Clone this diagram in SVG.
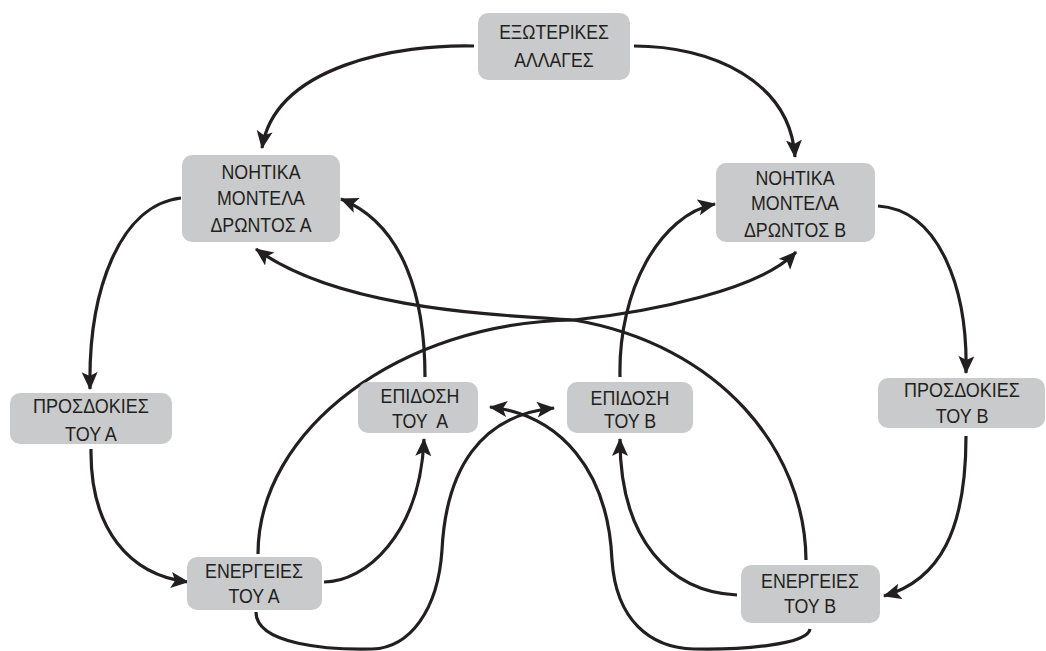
<svg xmlns="http://www.w3.org/2000/svg" width="1046" height="651" viewBox="0 0 1046 651">
<style>
.box{fill:#c9cacc;}
.lbl{font-family:"Liberation Sans",Arial,sans-serif;font-size:20px;fill:#231f20;text-anchor:middle;}
.c{fill:none;stroke:#231f20;stroke-width:3.2;marker-end:url(#ah);}
</style>
<defs>
<marker id="ah" markerUnits="userSpaceOnUse" markerWidth="20" markerHeight="18" refX="17" refY="8" orient="auto" viewBox="0 0 20 18">
<path d="M0,0 L18,8 L0,16 L4,8 Z" fill="#231f20"/>
</marker>
</defs>
<rect width="1046" height="651" fill="#ffffff"/>
<g id="connectors">
<path class="c" d="M474,46 C400,44 275,65 262,148"/>
<path class="c" d="M634,46 C710,46 790,80 795,157"/>
<path class="c" d="M181,198 C120,205 88,290 90,389"/>
<path class="c" d="M91,449 C90,530 130,575 188,582"/>
<path class="c" d="M324,582 C365,582 420,535 424,439"/>
<path class="c" d="M425,377 C425,300 405,225 341,199"/>
<path class="c" d="M806,560 C805,450 720,345 574,320 C500,315 340,310 256,249"/>
<path class="c" d="M258,554 C258,430 400,322 574,320 C650,312 760,290 796,252"/>
<path class="c" d="M256,612 C256,645 330,650 372,649 C410,648 438,610 442,550 C446,470 480,415 554,408"/>
<path class="c" d="M810,629 C808,645 740,650 694,649 C650,648 616,620 612,560 C608,470 560,415 490,407"/>
<path class="c" d="M737,595 C670,592 620,540 620,439"/>
<path class="c" d="M620,377 C618,290 660,215 715,204"/>
<path class="c" d="M878,206 C940,210 968,290 966,373"/>
<path class="c" d="M966,436 C966,530 940,580 884,596"/>
</g>
<g id="n-external">
<rect class="box" x="478" y="13" width="152" height="67" rx="10"/>
<g transform="translate(554,0) scale(0.88,1)">
<text class="lbl" x="0" y="39">ΕΞΩΤΕΡΙΚΕΣ</text>
<text class="lbl" x="0" y="67">ΑΛΛΑΓΕΣ</text>
</g>
</g>
<g id="n-models-a">
<rect class="box" x="182" y="155" width="158" height="87" rx="10"/>
<g transform="translate(261,0) scale(0.89,1)">
<text class="lbl" x="0" y="179">ΝΟΗΤΙΚΑ</text>
<text class="lbl" x="0" y="205">ΜΟΝΤΕΛΑ</text>
<text class="lbl" x="0" y="232">ΔΡΩΝΤΟΣ Α</text>
</g>
</g>
<g id="n-models-b">
<rect class="box" x="716" y="163" width="159" height="79" rx="10"/>
<g transform="translate(795,0) scale(0.89,1)">
<text class="lbl" x="0" y="185">ΝΟΗΤΙΚΑ</text>
<text class="lbl" x="0" y="210">ΜΟΝΤΕΛΑ</text>
<text class="lbl" x="0" y="237">ΔΡΩΝΤΟΣ Β</text>
</g>
</g>
<g id="n-expect-a">
<rect class="box" x="10" y="393" width="162" height="51" rx="10"/>
<g transform="translate(91,0) scale(0.9,1)">
<text class="lbl" x="0" y="413">ΠΡΟΣΔΟΚΙΕΣ</text>
<text class="lbl" x="0" y="441">ΤΟΥ Α</text>
</g>
</g>
<g id="n-perf-a">
<rect class="box" x="358" y="382" width="120" height="51" rx="10"/>
<g transform="translate(420,0) scale(0.89,1)">
<text class="lbl" x="0" y="403">ΕΠΙΔΟΣΗ</text>
<text class="lbl" x="0" y="428" xml:space="preserve">ΤΟΥ  Α</text>
</g>
</g>
<g id="n-perf-b">
<rect class="box" x="567" y="382" width="126" height="51" rx="10"/>
<g transform="translate(630,0) scale(0.89,1)">
<text class="lbl" x="0" y="405">ΕΠΙΔΟΣΗ</text>
<text class="lbl" x="0" y="428">ΤΟΥ Β</text>
</g>
</g>
<g id="n-expect-b">
<rect class="box" x="878" y="378" width="167" height="50" rx="10"/>
<g transform="translate(962,0) scale(0.9,1)">
<text class="lbl" x="0" y="397">ΠΡΟΣΔΟΚΙΕΣ</text>
<text class="lbl" x="0" y="423">ΤΟΥ Β</text>
</g>
</g>
<g id="n-actions-a">
<rect class="box" x="187" y="557" width="135" height="53" rx="10"/>
<g transform="translate(254,0) scale(0.89,1)">
<text class="lbl" x="0" y="578">ΕΝΕΡΓΕΙΕΣ</text>
<text class="lbl" x="0" y="603">ΤΟΥ Α</text>
</g>
</g>
<g id="n-actions-b">
<rect class="box" x="741" y="565" width="139" height="58" rx="10"/>
<g transform="translate(810,0) scale(0.89,1)">
<text class="lbl" x="0" y="588">ΕΝΕΡΓΕΙΕΣ</text>
<text class="lbl" x="0" y="613">ΤΟΥ Β</text>
</g>
</g>
</svg>
